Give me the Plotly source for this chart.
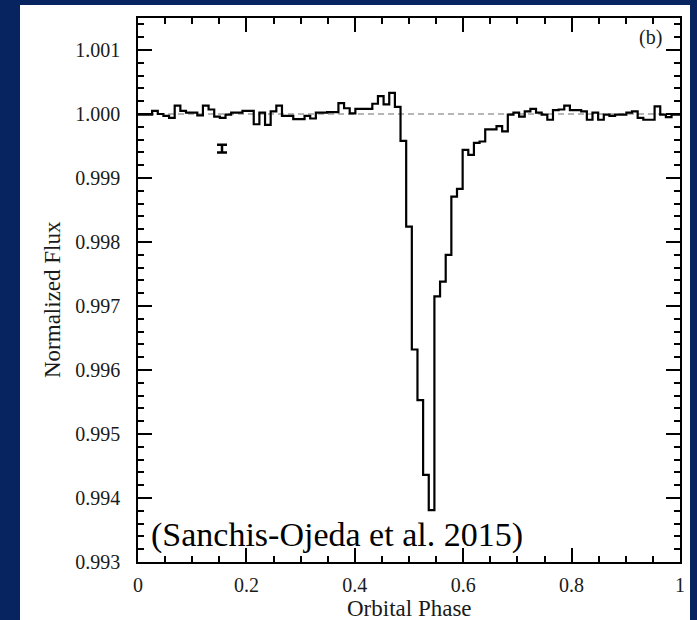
import plotly.graph_objects as go

# ---------------- data ----------------
N_BINS = 96
# normalized flux per phase bin (bin centres at k/96, k = 0..96)
flux = [
    0.99999, 0.99999, 0.99999, 1.00005, 1.00000, 0.99997, 0.99994, 1.00013,
    1.00005, 1.00002, 1.00002, 0.99998, 1.00013, 1.00007, 0.99996, 0.99994,
    0.99999, 1.00002, 1.00002, 1.00005, 1.00005, 0.99984, 1.00002, 0.99983,
    1.00004, 1.00013, 0.99997, 0.99997, 0.99992, 0.99992, 0.99997, 0.99993,
    1.00002, 1.00002, 1.00003, 1.00003, 1.00017, 1.00009, 1.00001, 1.00008,
    1.00008, 1.00008, 1.00016, 1.00028, 1.00015, 1.00033, 1.00011, 0.99958,
    0.99824, 0.99632, 0.99553, 0.99436, 0.99381, 0.99715, 0.99738, 0.99780,
    0.99871, 0.99883, 0.99944, 0.99936, 0.99955, 0.99957, 0.99976, 0.99976,
    0.99981, 0.99973, 0.99999, 1.00002, 0.99996, 1.00004, 1.00008, 1.00002,
    0.99999, 0.99991, 1.00006, 1.00007, 1.00013, 1.00006, 1.00006, 1.00004,
    0.99991, 1.00002, 0.99991, 0.99999, 0.99997, 0.99999, 0.99999, 1.00002,
    1.00004, 0.99994, 0.99991, 0.99991, 1.00012, 0.99999, 0.99995, 0.99999,
    0.99999,
]
phase = [k / N_BINS for k in range(len(flux))]

# typical error bar
err_phase = [0.155]
err_flux = [0.99946]
err_size = [0.00006]

# reference level
ref_phase = [0.0, 1.0]
ref_flux = [1.0, 1.0]

y_ticks = [0.993, 0.994, 0.995, 0.996, 0.997, 0.998, 0.999, 1.000, 1.001]
y_ticktext = ["0.993", "0.994", "0.995", "0.996", "0.997", "0.998", "0.999", "1.000", "1.001"]
x_ticks = [0, 0.2, 0.4, 0.6, 0.8, 1.0]
x_ticktext = ["0", "0.2", "0.4", "0.6", "0.8", "1"]

# ---------------- figure ----------------
SERIF = "Liberation Serif, Times New Roman, serif"
L, R, T, B = 138, 17, 18, 58
W, H = 697, 620
pw, ph = W - L - R, H - T - B


def px2paper_x(px):
    return (px - L) / pw


def px2paper_y(py):
    return (H - B - py) / ph


fig = go.Figure()

fig.add_trace(go.Scatter(
    x=ref_phase, y=ref_flux, mode="lines",
    line=dict(color="#6e6e6e", width=1.2, dash="6px,4px"),
    hoverinfo="skip",
))

fig.add_trace(go.Scatter(
    x=phase, y=flux, mode="lines",
    line=dict(color="black", width=2.2, shape="hvh"),
))

fig.add_trace(go.Scatter(
    x=err_phase, y=err_flux, mode="markers",
    marker=dict(size=1, color="black", opacity=0),
    error_y=dict(type="data", array=err_size, width=5, thickness=2.5, color="black"),
))

axis_common = dict(
    showline=True, linecolor="black", linewidth=1.5, mirror="ticks",
    ticks="inside", tickcolor="black", tickwidth=1.5, ticklen=14,
    showgrid=False, zeroline=False,
    tickfont=dict(family=SERIF, size=20, color="#1a1a1a"),
)

fig.update_xaxes(
    **axis_common,
    range=[0, 1],
    tickmode="array", tickvals=x_ticks, ticktext=x_ticktext,
    minor=dict(dtick=0.05, tick0=0, ticks="inside", ticklen=6,
               tickwidth=1.5, tickcolor="black", showgrid=False),
    ticklabelstandoff=4,
)
fig.update_yaxes(
    **axis_common,
    range=[0.993, 1.0015],
    tickmode="array", tickvals=y_ticks, ticktext=y_ticktext,
    minor=dict(dtick=0.0002, tick0=0.993, ticks="inside", ticklen=6,
               tickwidth=1.5, tickcolor="black", showgrid=False),
    ticklabelstandoff=12,
)

fig.update_layout(
    width=W, height=H,
    margin=dict(l=L, r=R, t=T, b=B, pad=0),
    paper_bgcolor="#082460",
    plot_bgcolor="white",
    showlegend=False,
    shapes=[dict(
        type="rect", xref="paper", yref="paper",
        x0=px2paper_x(20), x1=px2paper_x(690),
        y0=px2paper_y(625), y1=px2paper_y(5),
        fillcolor="white", line=dict(width=0), layer="below",
    )],
    annotations=[
        dict(text="Orbital Phase", xref="paper", yref="paper",
             x=0.5, y=px2paper_y(608), xanchor="center", yanchor="middle",
             showarrow=False, font=dict(family=SERIF, size=23, color="#1a1a1a")),
        dict(text="Normalized Flux", xref="paper", yref="paper",
             x=px2paper_x(53), y=px2paper_y(300), xanchor="center", yanchor="middle",
             textangle=-90, showarrow=False,
             font=dict(family=SERIF, size=23, color="#1a1a1a")),
        dict(text="(b)", xref="paper", yref="paper",
             x=px2paper_x(650), y=px2paper_y(38), xanchor="center", yanchor="middle",
             showarrow=False, font=dict(family=SERIF, size=20, color="#1a1a1a")),
        dict(text="(Sanchis-Ojeda et al. 2015)", xref="paper", yref="paper",
             x=px2paper_x(149), y=px2paper_y(535), xanchor="left", yanchor="middle",
             showarrow=False, font=dict(family=SERIF, size=34, color="black")),
    ],
)

fig.write_html("out.html")
